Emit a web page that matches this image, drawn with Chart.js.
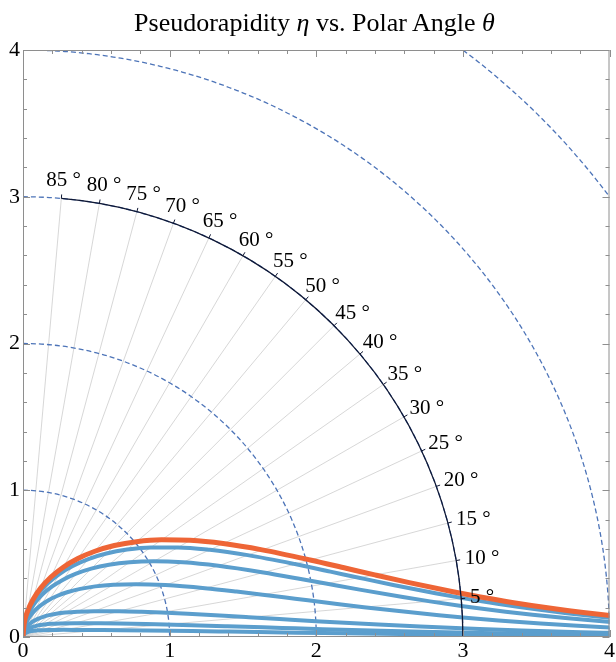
<!DOCTYPE html>
<html>
<head>
<meta charset="utf-8">
<title>Pseudorapidity vs. Polar Angle</title>
<script src="https://cdn.jsdelivr.net/npm/chart.js@4.4.1/dist/chart.umd.min.js"></script>
<style>
  html, body { margin: 0; padding: 0; background: #ffffff; }
  #wrap { position: relative; width: 616px; height: 662px; }
  #title {
    position: absolute; top: 10px; left: 0; width: 629px;
    text-align: center; font-family: "Liberation Serif", "DejaVu Serif", serif;
    font-size: 26px; line-height: 1; color: #000;
  }
  canvas { display: block; }
</style>
</head>
<body>
<div id="wrap">
  <canvas id="chart" width="616" height="662"></canvas>
  <div id="title">Pseudorapidity <i>η</i> vs. Polar Angle <i>θ</i></div>
</div>
<script>
// Axis ranges and tick values
const axisMin = 0;
const axisMax = 4;
const majorTicks = [0, 1, 2, 3, 4];
const minorStep = 0.2;

// Polar guides: dashed reference circles, the labelled angle arc and its spokes (degrees)
const circleRadii = [1, 2, 3, 4, 5];
const arcRadius = 3;
const angleTicks = [5, 10, 15, 20, 25, 30, 35, 40, 45, 50, 55, 60, 65, 70, 75, 80, 85];

// Massless particle: eta drawn at polar angle theta (x = eta cos(theta), y = eta sin(theta))
const etaX = [0, 0.0076, 0.0305, 0.0685, 0.1219, 0.1906, 0.2747, 0.3744, 0.4904, 0.6232, 0.7742, 0.9455, 1.1406, 1.3653, 1.6307, 1.9585, 2.2036, 2.3992, 2.6344, 2.9325, 3.1194, 3.3465, 3.6375, 3.8213, 4.0456, 4.3343];
const etaY = [0, 0.0870, 0.1727, 0.2558, 0.3349, 0.4086, 0.4757, 0.5347, 0.5844, 0.6232, 0.6497, 0.6620, 0.6585, 0.6366, 0.5935, 0.5248, 0.4684, 0.4230, 0.3702, 0.3082, 0.2729, 0.2340, 0.1906, 0.1668, 0.1413, 0.1135];

// Rapidity of massive particles (mass in units of pT), same polar layout
const m05X = [0, 0.0068, 0.0273, 0.0614, 0.1094, 0.1714, 0.2478, 0.3390, 0.4457, 0.5688, 0.7100, 0.8718, 1.0577, 1.2742, 1.5325, 1.8544, 2.0966, 2.2908, 2.5247, 2.8218, 3.0082, 3.2350, 3.5258, 3.7095, 3.9338, 4.2222];
const m05Y = [0, 0.0778, 0.1546, 0.2292, 0.3006, 0.3677, 0.4293, 0.4841, 0.5311, 0.5688, 0.5958, 0.6104, 0.6107, 0.5942, 0.5578, 0.4969, 0.4456, 0.4039, 0.3548, 0.2966, 0.2632, 0.2262, 0.1848, 0.1620, 0.1374, 0.1106];

const m1X = [0, 0.0054, 0.0216, 0.0487, 0.0871, 0.1369, 0.1988, 0.2735, 0.3619, 0.4656, 0.5865, 0.7276, 0.8934, 1.0909, 1.3321, 1.6397, 1.8749, 2.0652, 2.2959, 2.5904, 2.7759, 3.0019, 3.2920, 3.4754, 3.6995, 3.9879, 4.2115];
const m1Y = [0, 0.0616, 0.1225, 0.1819, 0.2392, 0.2936, 0.3444, 0.3906, 0.4313, 0.4656, 0.4921, 0.5095, 0.5158, 0.5087, 0.4848, 0.4393, 0.3985, 0.3642, 0.3227, 0.2723, 0.2429, 0.2099, 0.1725, 0.1517, 0.1292, 0.1044, 0.0882];

const m2X = [0, 0.0034, 0.0137, 0.0309, 0.0554, 0.0875, 0.1277, 0.1767, 0.2358, 0.3064, 0.3909, 0.4927, 0.6170, 0.7720, 0.9715, 1.2408, 1.4562, 1.6350, 1.8558, 2.1425, 2.3248, 2.5481, 2.8362, 3.0188, 3.2422, 3.5301, 3.7534, 3.9359, 4.1591];
const m2Y = [0, 0.0390, 0.0775, 0.1154, 0.1522, 0.1876, 0.2211, 0.2524, 0.2810, 0.3064, 0.3280, 0.3450, 0.3562, 0.3600, 0.3536, 0.3325, 0.3095, 0.2883, 0.2608, 0.2252, 0.2034, 0.1782, 0.1486, 0.1318, 0.1132, 0.0925, 0.0786, 0.0687, 0.0581];

const m5X = [0, 0.0015, 0.0060, 0.0136, 0.0244, 0.0386, 0.0565, 0.0785, 0.1052, 0.1377, 0.1773, 0.2264, 0.2886, 0.3705, 0.4843, 0.6552, 0.8072, 0.9436, 1.1238, 1.3739, 1.5403, 1.7500, 2.0268, 2.4245, 2.7096, 3.1131, 3.4002, 3.8052, 4.0282];
const m5Y = [0, 0.0171, 0.0340, 0.0507, 0.0670, 0.0827, 0.0978, 0.1121, 0.1254, 0.1377, 0.1488, 0.1585, 0.1666, 0.1728, 0.1763, 0.1756, 0.1716, 0.1664, 0.1579, 0.1444, 0.1348, 0.1224, 0.1062, 0.0847, 0.0710, 0.0543, 0.0445, 0.0332, 0.0281];

const m10X = [0, 0.0008, 0.0030, 0.0069, 0.0124, 0.0196, 0.0287, 0.0399, 0.0536, 0.0702, 0.0906, 0.1160, 0.1485, 0.1919, 0.2538, 0.3509, 0.4426, 0.5298, 0.6528, 0.8386, 0.9715, 1.1484, 1.3954, 1.7686, 2.0443, 2.4409, 2.7255, 3.1288, 3.3512, 3.6384, 4.0435];
const m10Y = [0, 0.0087, 0.0173, 0.0258, 0.0340, 0.0420, 0.0497, 0.0570, 0.0639, 0.0702, 0.0760, 0.0812, 0.0857, 0.0895, 0.0924, 0.0940, 0.0941, 0.0934, 0.0917, 0.0881, 0.0850, 0.0803, 0.0731, 0.0618, 0.0535, 0.0426, 0.0357, 0.0273, 0.0234, 0.0191, 0.0141];

const m20X = [0, 0.0004, 0.0035, 0.0099, 0.0201, 0.0353, 0.0584, 0.0970, 0.1287, 0.1792, 0.2280, 0.2757, 0.3453, 0.4569, 0.5422, 0.6633, 0.8474, 1.1556, 1.4019, 1.7745, 2.0499, 2.4462, 2.9523, 3.3563, 4.0485];
const m20Y = [0, 0.0044, 0.0129, 0.0211, 0.0287, 0.0353, 0.0409, 0.0452, 0.0468, 0.0480, 0.0485, 0.0486, 0.0485, 0.0480, 0.0474, 0.0464, 0.0444, 0.0404, 0.0367, 0.0310, 0.0268, 0.0213, 0.0155, 0.0117, 0.0071];

const ORANGE = '#ee6536';
const BLUE = '#5b9ecd';
const DASH_BLUE = '#4d74b8';
const FRAME = '#8e8e8e';
const SERIF = '"Liberation Serif", "DejaVu Serif", serif';

function pairs(xs, ys) {
  return xs.map((x, i) => ({ x: x, y: ys[i] }));
}

function curve(label, xs, ys, color, width, order) {
  return {
    label: label,
    data: pairs(xs, ys),
    showLine: true,
    borderColor: color,
    backgroundColor: color,
    borderWidth: width,
    pointRadius: 0,
    pointHoverRadius: 0,
    cubicInterpolationMode: 'monotone',
    borderCapStyle: 'butt',
    clip: 0,
    order: order
  };
}

const deg2rad = d => d * Math.PI / 180;

// Dashed circles and angle spokes sit beneath the curves; the arc, its labels and the frame above them
const polarGuides = {
  id: 'polarGuides',
  beforeDatasetsDraw(chart) {
    const { ctx, chartArea: a, scales: { x, y } } = chart;
    const ox = x.getPixelForValue(0), oy = y.getPixelForValue(0);
    const sx = x.getPixelForValue(1) - ox, sy = oy - y.getPixelForValue(1);
    ctx.save();
    ctx.beginPath();
    ctx.rect(a.left, a.top, a.right - a.left, a.bottom - a.top);
    ctx.clip();

    ctx.strokeStyle = '#cdcdcd';
    ctx.lineWidth = 0.8;
    for (const d of angleTicks) {
      const t = deg2rad(d);
      ctx.beginPath();
      ctx.moveTo(ox, oy);
      ctx.lineTo(ox + arcRadius * sx * Math.cos(t), oy - arcRadius * sy * Math.sin(t));
      ctx.stroke();
    }

    ctx.setLineDash([5, 3]);
    ctx.strokeStyle = DASH_BLUE;
    ctx.lineWidth = 1.3;
    for (const r of circleRadii) {
      ctx.beginPath();
      ctx.ellipse(ox, oy, r * sx, r * sy, 0, -Math.PI / 2, 0);
      ctx.stroke();
    }
    ctx.restore();
  },
  afterDatasetsDraw(chart) {
    const { ctx, chartArea: a, scales: { x, y } } = chart;
    const ox = x.getPixelForValue(0), oy = y.getPixelForValue(0);
    const sx = x.getPixelForValue(1) - ox, sy = oy - y.getPixelForValue(1);
    const last = angleTicks[angleTicks.length - 1];

    ctx.save();
    // solid angle arc with outward ticks
    ctx.strokeStyle = '#0f1733';
    ctx.lineWidth = 1.3;
    ctx.beginPath();
    ctx.ellipse(ox, oy, arcRadius * sx, arcRadius * sy, 0, -deg2rad(last), 0);
    ctx.stroke();
    ctx.lineWidth = 1;
    for (const d of angleTicks) {
      const t = deg2rad(d);
      const px = ox + arcRadius * sx * Math.cos(t), py = oy - arcRadius * sy * Math.sin(t);
      ctx.beginPath();
      ctx.moveTo(px, py);
      ctx.lineTo(px + 4 * Math.cos(t), py - 4 * Math.sin(t));
      ctx.stroke();
    }

    // angle labels, anchored on the side facing the arc
    ctx.fillStyle = '#000';
    ctx.font = '21px ' + SERIF;
    ctx.textAlign = 'center';
    ctx.textBaseline = 'middle';
    for (const d of angleTicks) {
      const t = deg2rad(d);
      const c = Math.cos(t), s = Math.sin(t);
      const px = ox + arcRadius * sx * c + 6 * c;
      const py = oy - arcRadius * sy * s - 6 * s;
      const label = d + ' °';
      const w = ctx.measureText(label).width + 6, h = 26;
      ctx.fillText(label, px + c * w / 2, py - s * h / 2 + 1);
    }

    // frame with inward ticks on all four sides
    ctx.strokeStyle = FRAME;
    ctx.lineWidth = 1;
    ctx.strokeRect(a.left + 0.5, a.top + 0.5, a.right - a.left - 1, a.bottom - a.top - 1);
    const steps = Math.round((axisMax - axisMin) / minorStep);
    for (let i = 0; i <= steps; i++) {
      const v = axisMin + i * minorStep;
      const major = majorTicks.some(m => Math.abs(m - v) < 1e-6);
      const len = major ? 7 : 4;
      const xp = Math.round(x.getPixelForValue(v)) + 0.5;
      const yp = Math.round(y.getPixelForValue(v)) + 0.5;
      ctx.beginPath();
      ctx.moveTo(xp, a.bottom); ctx.lineTo(xp, a.bottom - len);
      ctx.moveTo(xp, a.top); ctx.lineTo(xp, a.top + len);
      ctx.moveTo(a.left, yp); ctx.lineTo(a.left + len, yp);
      ctx.moveTo(a.right, yp); ctx.lineTo(a.right - len, yp);
      ctx.stroke();
    }
    ctx.restore();
  }
};

const datasets = [
  curve('η (massless)', etaX, etaY, ORANGE, 5, 0),
  curve('y (m = 0.5 pT)', m05X, m05Y, BLUE, 4, 1),
  curve('y (m = 1 pT)', m1X, m1Y, BLUE, 4, 1),
  curve('y (m = 2 pT)', m2X, m2Y, BLUE, 4, 1),
  curve('y (m = 5 pT)', m5X, m5Y, BLUE, 4, 1),
  curve('y (m = 10 pT)', m10X, m10Y, BLUE, 4, 1),
  curve('y (m = 20 pT)', m20X, m20Y, BLUE, 4, 1)
];

const tickFont = { family: SERIF, size: 22 };

new Chart(document.getElementById('chart'), {
  type: 'scatter',
  data: { datasets: datasets },
  options: {
    responsive: false,
    animation: false,
    events: [],
    layout: { padding: { top: 50, right: 5, bottom: 0, left: 0 } },
    plugins: { legend: { display: false }, tooltip: { enabled: false }, title: { display: false } },
    scales: {
      x: {
        type: 'linear', min: axisMin, max: axisMax,
        afterBuildTicks: s => { s.ticks = majorTicks.map(v => ({ value: v })); },
        afterFit: s => { s.height = 25; },
        grid: { display: false, drawTicks: false },
        border: { display: false },
        ticks: { font: tickFont, color: '#000', padding: 1, maxRotation: 0, autoSkip: false }
      },
      y: {
        type: 'linear', min: axisMin, max: axisMax,
        afterBuildTicks: s => { s.ticks = majorTicks.map(v => ({ value: v })); },
        afterFit: s => { s.width = 23; },
        grid: { display: false, drawTicks: false },
        border: { display: false },
        ticks: { font: tickFont, color: '#000', padding: 3, autoSkip: false }
      }
    }
  },
  plugins: [polarGuides]
});
</script>
</body>
</html>
